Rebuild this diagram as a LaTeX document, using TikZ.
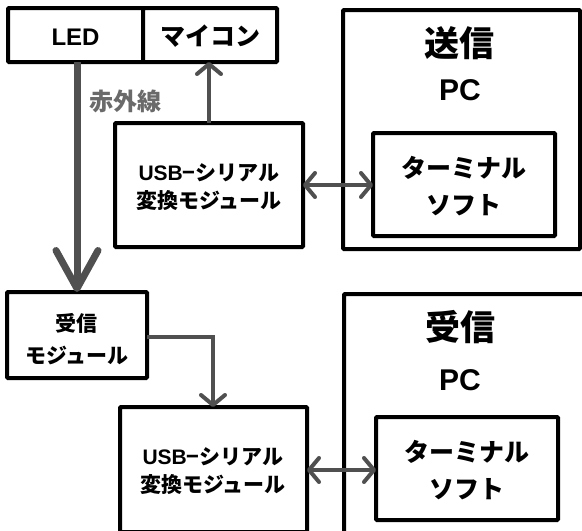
\documentclass[tikz,border=0pt]{standalone}
\usepackage{fontspec}
\setmainfont{Noto Sans CJK JP}
\newfontfamily\lat{Liberation Sans}
\usetikzlibrary{arrows.meta}
\definecolor{arr}{HTML}{505050}
\definecolor{lbl}{HTML}{6A6A6A}
\tikzset{
  box/.style={draw=black, line width=4pt, rounded corners=1pt, fill=white},
  txt/.style={font=\bfseries, align=center, inner sep=0pt},
  conn/.style={draw=arr, line width=4pt},
}
\begin{document}
\begin{tikzpicture}[x=1pt, y=-1pt]
\useasboundingbox (0,0) rectangle (582,531);
\begin{scope}
\clip (0,0) rectangle (582,531);
% PC boxes
\draw[box] (343,10) rectangle (580,249);
\draw[box] (344,294) rectangle (600,560);
\node[txt, font=\fontsize{35}{36}\selectfont\bfseries] (t1) at (459,43) {送信};
\node[txt, font=\fontsize{30}{32}\selectfont\bfseries\lat] (pc1) at (460,90) {PC};
\node[txt, font=\fontsize{35}{36}\selectfont\bfseries] (t2) at (460,327) {受信};
\node[txt, font=\fontsize{30}{32}\selectfont\bfseries\lat] (pc2) at (460,380) {PC};
% terminal boxes
\draw[box] (373,133) rectangle (555,236);
\node[txt, font=\fontsize{25}{37}\selectfont\bfseries] (term1) at (464,186) {ターミナル\\ソフト};
\draw[box] (376,417) rectangle (558,520);
\node[txt, font=\fontsize{25}{37}\selectfont\bfseries] (term2) at (467,470) {ターミナル\\ソフト};
\coordinate (term1w) at (373,185);
\coordinate (term2w) at (376,470);
% LED, micon
\draw[box] (8,8) rectangle (143,62);
\draw[box] (143,8) rectangle (277,62);
\node[txt, font=\fontsize{24}{26}\selectfont\bfseries\lat] (led) at (75.5,37) {LED};
\node[txt, font=\fontsize{25}{26}\selectfont\bfseries] (micon) at (210,36) {マイコン};
\coordinate (ledb) at (77,62);
\coordinate (miconb) at (209,62);
% USB modules
\draw[box] (115,123) rectangle (303,247);
\node[txt, font=\fontsize{21}{28}\selectfont\bfseries] (usb1) at (209,187) {{\lat USB}−シリアル\\変換モジュール};
\coordinate (usb1t) at (209,123);
\coordinate (usb1e) at (303,185);
\draw[box] (120,407) rectangle (307,532);
\node[txt, font=\fontsize{21}{28}\selectfont\bfseries] (usb2) at (213,471) {{\lat USB}−シリアル\\変換モジュール};
\coordinate (usb2t) at (213,407);
\coordinate (usb2e) at (307,470);
% receiver module
\draw[box] (7,292) rectangle (147,378);
\node[txt, font=\fontsize{21}{32}\selectfont\bfseries] (rx) at (77,339) {受信\\モジュール};
\coordinate (rxt) at (77,292);
\coordinate (rxe) at (147,337);
% connectors
\draw[conn, -{Straight Barb[length=10pt, width=24pt, round]}] (usb1t) -- (miconb);
\draw[conn, {Straight Barb[length=10pt, width=24pt, round]}-{Straight Barb[length=10pt, width=24pt, round]}] (usb1e) -- (term1w);
\draw[conn, {Straight Barb[length=10pt, width=24pt, round]}-{Straight Barb[length=10pt, width=24pt, round]}] (usb2e) -- (term2w);
\draw[conn, -{Straight Barb[length=10pt, width=24pt, round]}] (rxe) -| (usb2t);
\draw[draw=arr, line width=7pt, -{Straight Barb[length=38pt, width=42pt, round]}] (ledb) -- (rxt);
\node[txt, text=lbl, font=\fontsize{24}{26}\selectfont\bfseries] (ir) at (125,101) {赤外線};
\end{scope}
\end{tikzpicture}
\end{document}
